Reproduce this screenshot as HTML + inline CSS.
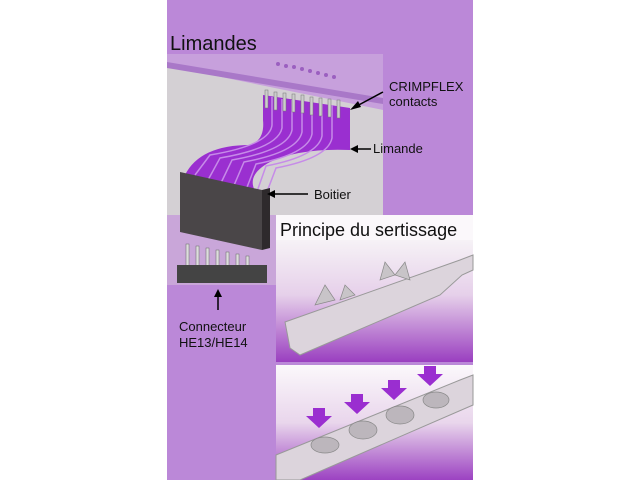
<!DOCTYPE html>
<html><head><meta charset="utf-8"><style>
html,body{margin:0;padding:0;background:#fff;}
svg{display:block}
text{font-family:"Liberation Sans",sans-serif;fill:#111}
</style></head><body>
<svg width="640" height="480" viewBox="0 0 640 480">
<defs>
<linearGradient id="g1" x1="0" y1="0" x2="0" y2="1">
<stop offset="0" stop-color="#f6f2f6"/><stop offset="0.45" stop-color="#e6d0ea"/><stop offset="1" stop-color="#9a3fc0"/></linearGradient>
<linearGradient id="g2" x1="0" y1="0" x2="0" y2="1">
<stop offset="0" stop-color="#fbf8fb"/><stop offset="0.5" stop-color="#e9d6ec"/><stop offset="1" stop-color="#9c42c2"/></linearGradient>
</defs>
<rect x="167" y="0" width="306" height="480" fill="#bb88d8"/>
<text x="170" y="50" font-size="20">Limandes</text>
<rect x="167" y="54" width="216" height="161" fill="#d4d0d4"/>
<rect x="167" y="215" width="109" height="70" fill="#d4d0d4"/>
<polygon points="167,54 383,54 383,110 167,66" fill="#c7a0dc"/>
<polygon points="167,62 383,98 383,104 167,68" fill="#a978c8"/>
<polygon points="167,215 276,215 276,285 167,285" fill="#c9a6d9"/>
<g fill="#9b5fc0"><circle cx="278" cy="64" r="2"/><circle cx="286" cy="66" r="2"/><circle cx="294" cy="67" r="2"/><circle cx="302" cy="69" r="2"/><circle cx="310" cy="71" r="2"/><circle cx="318" cy="73" r="2"/><circle cx="326" cy="75" r="2"/><circle cx="334" cy="77" r="2"/></g>
<path d="M263,95 L350,108 L350,150 Q300,148 270,162 Q240,178 262,200 L262,215 L190,215 L185,175 Q200,145 250,145 Q265,140 263,120 Z" fill="#9a2fd0"/>
<g stroke="#c68be8" stroke-width="1.5" fill="none">
<path d="M272,97 L272,125 Q270,145 210,155 L195,175"/>
<path d="M282,99 L282,128 Q278,148 220,158 L208,180"/>
<path d="M292,100 L292,130 Q288,150 232,160 L220,185"/>
<path d="M302,101 L302,132 Q298,152 244,162 L232,190"/>
<path d="M312,103 L312,134 Q308,154 256,164 L244,195"/>
<path d="M322,104 L322,136 Q318,156 266,166 L254,200"/>
<path d="M332,105 L332,138 Q328,158 276,168 L262,205"/>
</g>
<g fill="#ccc" stroke="#777" stroke-width="0.5">
<rect x="265" y="90" width="3" height="18"/><rect x="274" y="92" width="3" height="18"/><rect x="283" y="93" width="3" height="18"/><rect x="292" y="94" width="3" height="18"/><rect x="301" y="95" width="3" height="18"/><rect x="310" y="97" width="3" height="18"/><rect x="319" y="98" width="3" height="18"/><rect x="328" y="99" width="3" height="18"/><rect x="337" y="100" width="3" height="18"/></g>
<polygon points="180,172 262,190 262,250 180,232" fill="#4a4648"/>
<polygon points="262,190 270,188 270,248 262,250" fill="#2e2a2c"/>
<g fill="#ddd" stroke="#666" stroke-width="0.5">
<rect x="186" y="244" width="3" height="25"/><rect x="196" y="246" width="3" height="25"/><rect x="206" y="248" width="3" height="25"/><rect x="216" y="250" width="3" height="25"/><rect x="226" y="252" width="3" height="25"/><rect x="236" y="254" width="3" height="25"/><rect x="246" y="256" width="3" height="25"/></g>
<rect x="177" y="265" width="90" height="18" fill="#444"/>
<text x="389" y="91" font-size="13">CRIMPFLEX</text>
<text x="389" y="106" font-size="13">contacts</text>
<line x1="383" y1="92" x2="355" y2="107" stroke="#000" stroke-width="1.5"/><polygon points="350,110 358,101 361,107" fill="#000"/>
<text x="373" y="153" font-size="13">Limande</text>
<line x1="371" y1="149" x2="356" y2="149" stroke="#000" stroke-width="1.5"/><polygon points="350,149 358,145 358,153" fill="#000"/>
<text x="314" y="199" font-size="13">Boitier</text>
<line x1="308" y1="194" x2="272" y2="194" stroke="#000" stroke-width="1.5"/><polygon points="267,194 275,190 275,198" fill="#000"/>
<line x1="218" y1="310" x2="218" y2="295" stroke="#000" stroke-width="1.5"/><polygon points="218,289 214,297 222,297" fill="#000"/>
<text x="179" y="331" font-size="13">Connecteur</text>
<text x="179" y="347" font-size="13">HE13/HE14</text>
<rect x="276" y="215" width="197" height="30" fill="#fbf8fb"/>
<text x="280" y="236" font-size="18">Principe du sertissage</text>
<rect x="276" y="240" width="197" height="122" fill="url(#g1)"/>
<polygon points="285,322 460,260 473,255 473,270 462,275 440,295 300,355 290,348" fill="#dcd4dc" stroke="#999" stroke-width="1"/>
<g fill="#c8c4c8" stroke="#888" stroke-width="0.7">
<polygon points="315,305 325,285 335,300"/><polygon points="340,300 345,285 355,295"/>
<polygon points="380,280 385,262 395,275"/><polygon points="395,275 405,262 410,280"/></g>
<rect x="276" y="365" width="197" height="115" fill="url(#g2)"/>
<polygon points="276,455 460,380 473,375 473,405 300,480 276,480" fill="#dcd4dc" stroke="#999" stroke-width="1"/>
<g fill="#bcb6bc" stroke="#888" stroke-width="0.7">
<ellipse cx="325" cy="445" rx="14" ry="8"/><ellipse cx="363" cy="430" rx="14" ry="9"/><ellipse cx="400" cy="415" rx="14" ry="9"/><ellipse cx="436" cy="400" rx="13" ry="8"/></g>
<g fill="#9a2ed0">
<polygon points="313,408 325,408 325,416 332,416 319,428 306,416 313,416"/>
<polygon points="351,394 363,394 363,402 370,402 357,414 344,402 351,402"/>
<polygon points="388,380 400,380 400,388 407,388 394,400 381,388 388,388"/>
<polygon points="424,366 436,366 436,374 443,374 430,386 417,374 424,374"/></g>
</svg>
</body></html>
